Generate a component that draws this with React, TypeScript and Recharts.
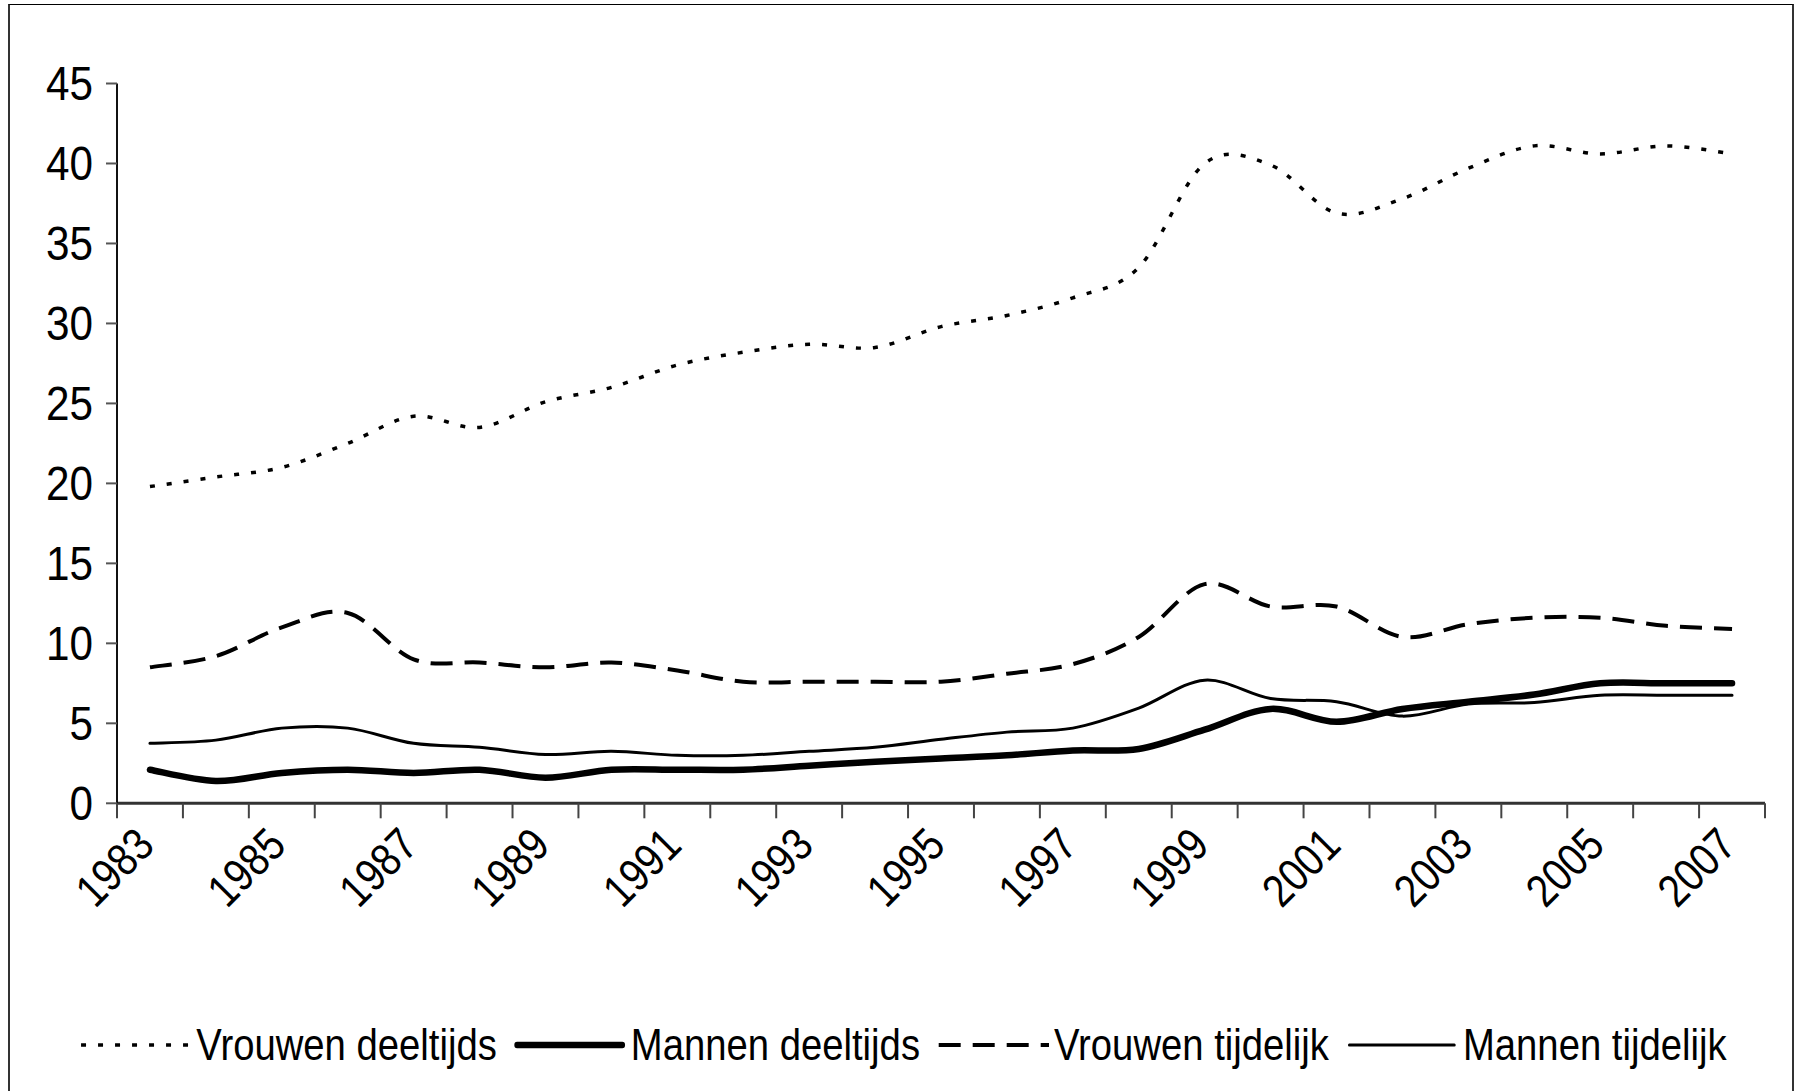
import React from 'react';
import { LineChart, Line, XAxis, YAxis } from 'recharts';

const years = [1983, 1984, 1985, 1986, 1987, 1988, 1989, 1990, 1991, 1992, 1993, 1994, 1995, 1996, 1997, 1998, 1999, 2000, 2001, 2002, 2003, 2004, 2005, 2006, 2007];
const vrouwenDeeltijds = [19.8, 20.4, 21.0, 22.5, 24.2, 23.5, 25.1, 26.0, 27.4, 28.2, 28.7, 28.5, 29.8, 30.5, 31.6, 33.5, 40.0, 39.9, 36.9, 37.8, 39.7, 41.1, 40.6, 41.1, 40.6];
const mannenDeeltijds = [2.1, 1.4, 1.9, 2.1, 1.9, 2.1, 1.6, 2.1, 2.1, 2.1, 2.35, 2.6, 2.8, 3.0, 3.3, 3.4, 4.6, 5.9, 5.1, 5.9, 6.35, 6.8, 7.5, 7.5, 7.5];
const vrouwenTijdelijk = [8.5, 9.2, 11.0, 11.9, 9.0, 8.8, 8.5, 8.8, 8.3, 7.6, 7.6, 7.6, 7.6, 8.1, 8.7, 10.4, 13.7, 12.3, 12.3, 10.4, 11.2, 11.6, 11.6, 11.1, 10.9];
const mannenTijdelijk = [3.75, 3.95, 4.7, 4.7, 3.75, 3.5, 3.05, 3.25, 3.0, 3.0, 3.25, 3.5, 4.0, 4.45, 4.7, 5.95, 7.7, 6.55, 6.35, 5.45, 6.2, 6.3, 6.75, 6.75, 6.75];
const yTicks = [0, 5, 10, 15, 20, 25, 30, 35, 40, 45];
const labelEvery = 2;

const FONT = "'Liberation Sans', Arial, sans-serif";
const NARROW = 0.85;

const series = [
  { key: 'vd', name: 'Vrouwen deeltijds', values: vrouwenDeeltijds, width: 3.5, dash: [5, 12], cap: 'butt' },
  { key: 'md', name: 'Mannen deeltijds', values: mannenDeeltijds, width: 6.5, dash: null, cap: 'round' },
  { key: 'vt', name: 'Vrouwen tijdelijk', values: vrouwenTijdelijk, width: 4, dash: [22, 12], cap: 'butt' },
  { key: 'mt', name: 'Mannen tijdelijk', values: mannenTijdelijk, width: 3, dash: null, cap: 'round' },
];

const data = years.map((y, i) => {
  const row: any = { idx: i, year: y };
  series.forEach((s) => { row[s.key] = s.values[i]; });
  return row;
});

// Excel-like smoothing (Catmull-Rom bezier)
const excelCurve: any = (context: any) => {
  let pts: number[][] = [];
  return {
    areaStart() {},
    areaEnd() {},
    lineStart() { pts = []; },
    point(x: number, y: number) { pts.push([+x, +y]); },
    lineEnd() {
      const n = pts.length;
      if (!n) return;
      context.moveTo(pts[0][0], pts[0][1]);
      for (let i = 0; i < n - 1; i++) {
        const p0 = pts[Math.max(i - 1, 0)];
        const p1 = pts[i];
        const p2 = pts[i + 1];
        const p3 = pts[Math.min(i + 2, n - 1)];
        context.bezierCurveTo(
          p1[0] + (p2[0] - p0[0]) / 6, p1[1] + (p2[1] - p0[1]) / 6,
          p2[0] - (p3[0] - p1[0]) / 6, p2[1] - (p3[1] - p1[1]) / 6,
          p2[0], p2[1]
        );
      }
    },
  };
};

const xDomain = [-0.5, years.length - 0.5];
const xTicks: number[] = [];
for (let i = 0; i <= years.length; i++) xTicks.push(i - 0.5);
for (let i = 0; i < years.length; i += labelEvery) xTicks.push(i);

const TICK_LEN = 15;

const XTick = (props: any) => {
  const { x, y, payload } = props;
  const v = payload.value;
  if (!Number.isInteger(v)) {
    return <line x1={x} x2={x} y1={y - TICK_LEN} y2={y} stroke="#444" strokeWidth={2} />;
  }
  const ax = x - 5;
  const ay = y + 18;
  return (
    <text transform={`translate(${ax},${ay}) rotate(-45) scale(${NARROW},1)`} x={0} y={0} textAnchor="end"
      dominantBaseline="central" fontSize={46} fontFamily={FONT} fill="#000">
      {String(years[v])}
    </text>
  );
};

const YTick = (props: any) => {
  const { x, y, payload } = props;
  return (
    <text transform={`translate(${x},${y}) scale(0.88,1)`} x={0} y={0} textAnchor="end" dominantBaseline="central"
      fontSize={48} fontFamily={FONT} fill="#000">
      {String(payload.value)}
    </text>
  );
};

const LegendSample = ({ s }: any) => {
  const w = 112 / NARROW;
  return (
    <svg width={w} height={24} style={{ display: 'block' }}>
      <line x1={s.dash ? 2 : 4} x2={s.dash ? w : w - 4} y1={12} y2={12} stroke="#000" strokeWidth={s.width}
        strokeDasharray={s.dash ? s.dash.map((d: number) => d / NARROW).join(' ') : undefined} strokeLinecap={s.cap} />
    </svg>
  );
};

export default function App() {
  return (
    <div style={{ position: 'absolute', left: 0, top: 0, width: 1795, height: 1091, overflow: 'hidden', background: '#fff' }}>
      <div style={{ position: 'absolute', left: 8, top: 4, width: 1782, height: 1200, borderTop: '1px solid #000', borderLeft: '2px solid #333', borderRight: '2px solid #333' }} />
      <div style={{ position: 'absolute', left: 0, top: 0 }}>
        <LineChart width={1795} height={1091} data={data} margin={{ top: 83.5, right: 30, bottom: 167.7, left: 0 }}>
          <XAxis xAxisId="top" orientation="top" type="number" dataKey="idx" domain={xDomain} height={0}
            tick={false} tickLine={false} axisLine={{ stroke: '#808080', strokeWidth: 3 }} />
          <YAxis yAxisId="right" orientation="right" type="number" domain={[0, 45]} width={0}
            tick={false} tickLine={false} axisLine={{ stroke: '#808080', strokeWidth: 3 }} />
          <XAxis type="number" dataKey="idx" domain={xDomain} ticks={xTicks} interval={0} height={120}
            tickLine={false} tickSize={TICK_LEN} tickMargin={0} tick={<XTick />}
            axisLine={{ stroke: '#333', strokeWidth: 3 }} allowDecimals />
          <YAxis type="number" domain={[0, 45]} ticks={yTicks} interval={0} width={117} tickSize={11} tickMargin={13}
            tickLine={{ stroke: '#555', strokeWidth: 2 }} axisLine={{ stroke: '#111', strokeWidth: 2 }}
            tick={<YTick />} />
          {series.map((s) => (
            <Line key={s.key} dataKey={s.key} name={s.name} type={excelCurve} stroke="#000" strokeWidth={s.width}
              strokeDasharray={s.dash ? s.dash.join(' ') : undefined} strokeLinecap={s.cap as any} dot={false} activeDot={false}
              isAnimationActive={false} />
          ))}
        </LineChart>
      </div>
      <div style={{ position: 'absolute', left: 0, width: 1805, top: 1018, height: 54, display: 'flex', alignItems: 'center', justifyContent: 'center' }}>
        <div style={{ display: 'flex', alignItems: 'center', transform: `scaleX(${NARROW})`, transformOrigin: 'center', fontFamily: FONT, fontSize: 45, color: '#000', whiteSpace: 'nowrap' }}>
          {series.map((s, i) => (
            <div key={s.key} style={{ display: 'flex', alignItems: 'center', marginRight: i < series.length - 1 ? 17 / NARROW : 0 }}>
              <LegendSample s={s} />
              <span style={{ marginLeft: 5 / NARROW, whiteSpace: 'nowrap', lineHeight: '54px' }}>{s.name}</span>
            </div>
          ))}
        </div>
      </div>
    </div>
  );
}
